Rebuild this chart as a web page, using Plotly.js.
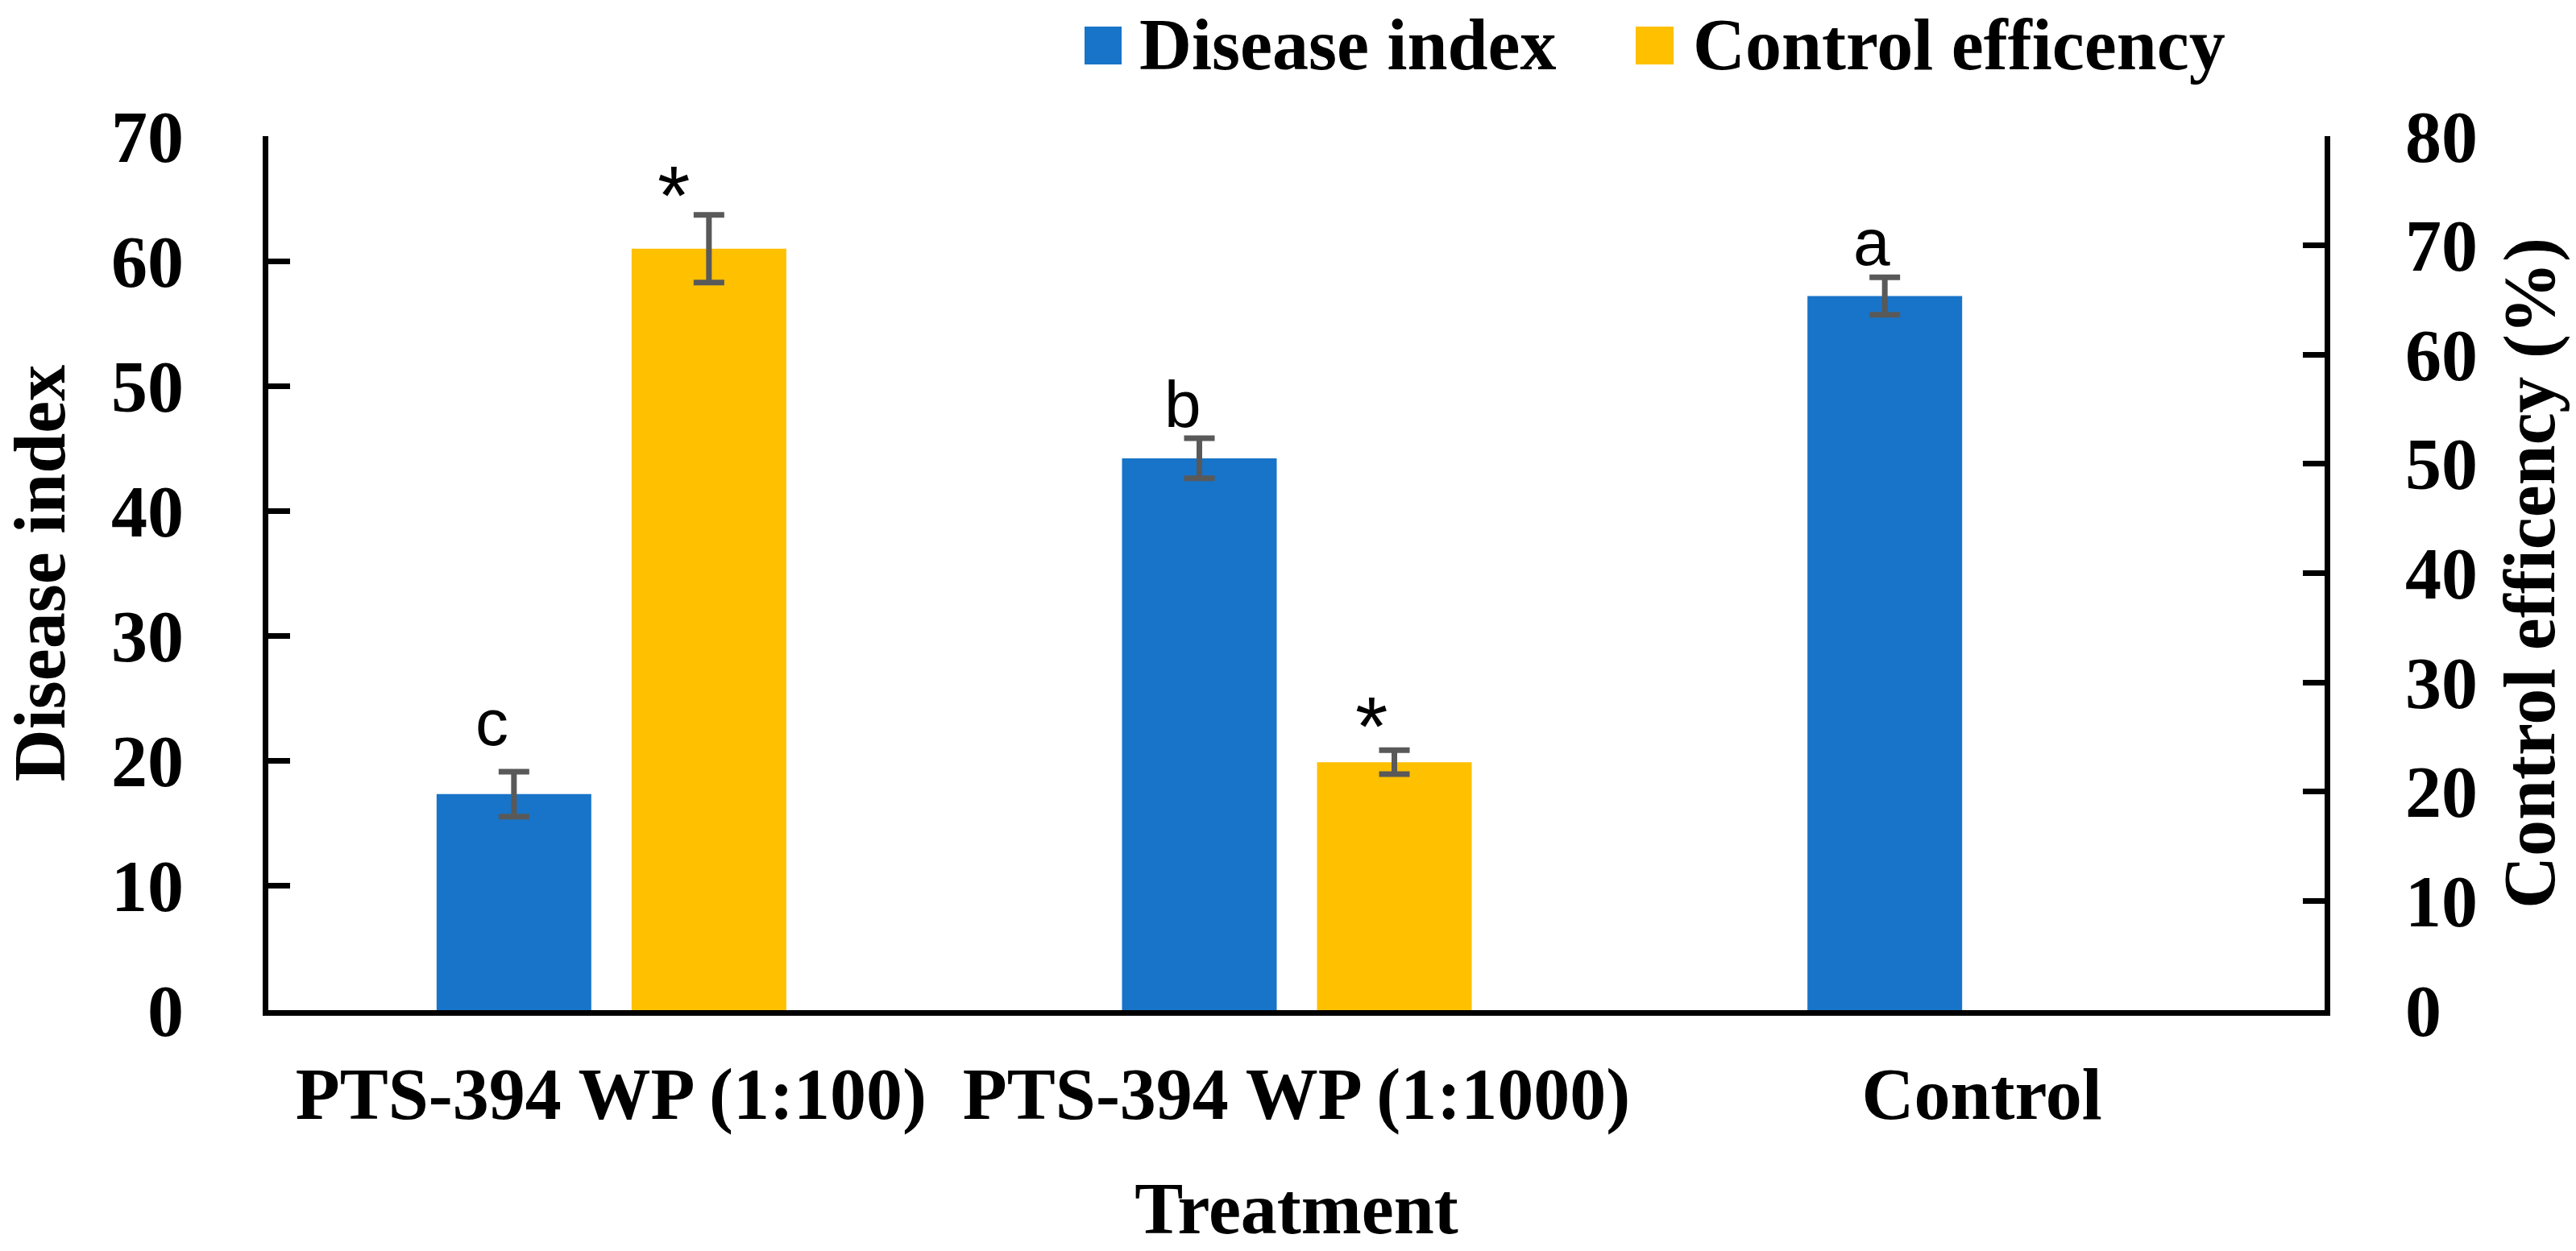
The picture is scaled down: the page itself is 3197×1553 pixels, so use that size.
<!DOCTYPE html>
<html>
<head>
<meta charset="utf-8">
<script src="https://cdn.plot.ly/plotly-3.0.1.min.js"></script>
<style>html,body{margin:0;padding:0;background:#fff;}#chart{width:3197px;height:1553px;}</style>
</head>
<body>
<div id="chart"></div>
<script>
// ---- data ----
const categories = ["PTS-394 WP (1:100)", "PTS-394 WP (1:1000)", "Control"];
const diseaseIndex = [17.3, 44.2, 57.2];
const diseaseIndexErr = [1.8, 1.6, 1.5];
const controlEfficiency = [69.7, 22.7, null];
const controlEfficiencyErr = [3.1, 1.1, null];
const diseaseLabels = ["c", "b", "a"];
const efficiencyLabels = ["*", "*", ""];
const seriesNames = ["Disease index", "Control efficency"];
const yLeftTicks = [0, 10, 20, 30, 40, 50, 60, 70];
const yRightTicks = [0, 10, 20, 30, 40, 50, 60, 70, 80];

// ---- style ----
const W = 3197, H = 1553;
const M = {l: 333, r: 312, t: 169, b: 299};
const serif = {family: "Liberation Serif, Times New Roman, serif", size: 90, color: "#000", weight: "bold"};
const sans = {family: "Liberation Sans, Arial, sans-serif", size: 82, color: "#000"};
const starFont = {family: "Liberation Sans, Arial, sans-serif", size: 104, color: "#000"};
const BLUE = "#1874C8", GOLD = "#FFC000", ERR = "#595959";
const plotW = W - M.l - M.r, plotH = H - M.t - M.b;
const px2x = px => (px - M.l) / plotW;
const px2y = py => (H - M.b - py) / plotH;

const traces = [
  {
    type: "bar", name: seriesNames[0], x: categories, y: diseaseIndex,
    width: 0.2257, offset: -0.2545, marker: {color: BLUE}, yaxis: "y",
    error_y: {type: "data", array: diseaseIndexErr, visible: true, color: ERR, thickness: 7, width: 19},
    hoverinfo: "x+y", showlegend: false
  },
  {
    type: "bar", name: seriesNames[1], x: categories, y: controlEfficiency,
    width: 0.2257, offset: 0.030, marker: {color: GOLD}, yaxis: "y2",
    error_y: {type: "data", array: controlEfficiencyErr, visible: true, color: ERR, thickness: 7, width: 19},
    hoverinfo: "x+y", showlegend: false
  }
];

// letter annotations
const annotations = [];
const dShift = [[-148, 14], [-141, -5], [-137, -4]];
diseaseLabels.forEach((t, i) => {
  if (!t) return;
  annotations.push({x: categories[i], y: diseaseIndex[i] + diseaseIndexErr[i], xref: "x", yref: "y",
    text: t, showarrow: false, yanchor: "bottom", xanchor: "center",
    xshift: dShift[i][0], yshift: dShift[i][1], font: sans});
});
const eShift = [[78, -36], [93, -31]];
efficiencyLabels.forEach((t, i) => {
  if (!t) return;
  annotations.push({x: categories[i], y: controlEfficiency[i] + controlEfficiencyErr[i], xref: "x", yref: "y2",
    text: t, showarrow: false, yanchor: "bottom", xanchor: "center",
    xshift: eShift[i][0], yshift: eShift[i][1], font: starFont});
});

// custom legend (large square swatches)
const legendItems = [
  {name: seriesNames[0], color: BLUE, x0: 1346, x1: 1392, tx: 1412},
  {name: seriesNames[1], color: GOLD, x0: 2030, x1: 2077, tx: 2099}
];
const shapes = [];
legendItems.forEach(it => {
  shapes.push({type: "rect", xref: "paper", yref: "paper", x0: px2x(it.x0), x1: px2x(it.x1),
    y0: px2y(80), y1: px2y(33), fillcolor: it.color, line: {width: 0}});
  annotations.push({xref: "paper", yref: "paper", x: px2x(it.tx), y: px2y(56), xanchor: "left", yanchor: "middle",
    text: it.name, showarrow: false, font: serif});
});

const axisCommon = {
  showline: true, linecolor: "#000", linewidth: 7, showgrid: false, zeroline: false,
  ticks: "inside", ticklen: 27, tickwidth: 7, tickcolor: "#000", tickfont: serif
};

const layout = {
  width: W, height: H, margin: M, paper_bgcolor: "#fff", plot_bgcolor: "#fff",
  barmode: "overlay", showlegend: false,
  xaxis: {
    type: "category", showline: true, linecolor: "#000", linewidth: 7, showgrid: false, zeroline: false,
    ticks: "", tickfont: serif, ticklabelstandoff: 20,
    title: {text: "Treatment", font: serif, standoff: 62}
  },
  yaxis: Object.assign({}, axisCommon, {
    range: [0, 70], tickvals: yLeftTicks, ticktext: yLeftTicks.map(String), ticklabelstandoff: 80,
    title: {text: "Disease index", font: serif, standoff: 48}
  }),
  yaxis2: Object.assign({}, axisCommon, {
    range: [0, 80], tickvals: yRightTicks, ticktext: yRightTicks.map(String), ticklabelstandoff: 75,
    overlaying: "y", side: "right",
    title: {text: "Control efficency (%)", font: serif, standoff: 35}
  }),
  annotations: annotations, shapes: shapes
};

Plotly.newPlot("chart", traces, layout, {displayModeBar: false, staticPlot: true});
</script>
</body>
</html>
